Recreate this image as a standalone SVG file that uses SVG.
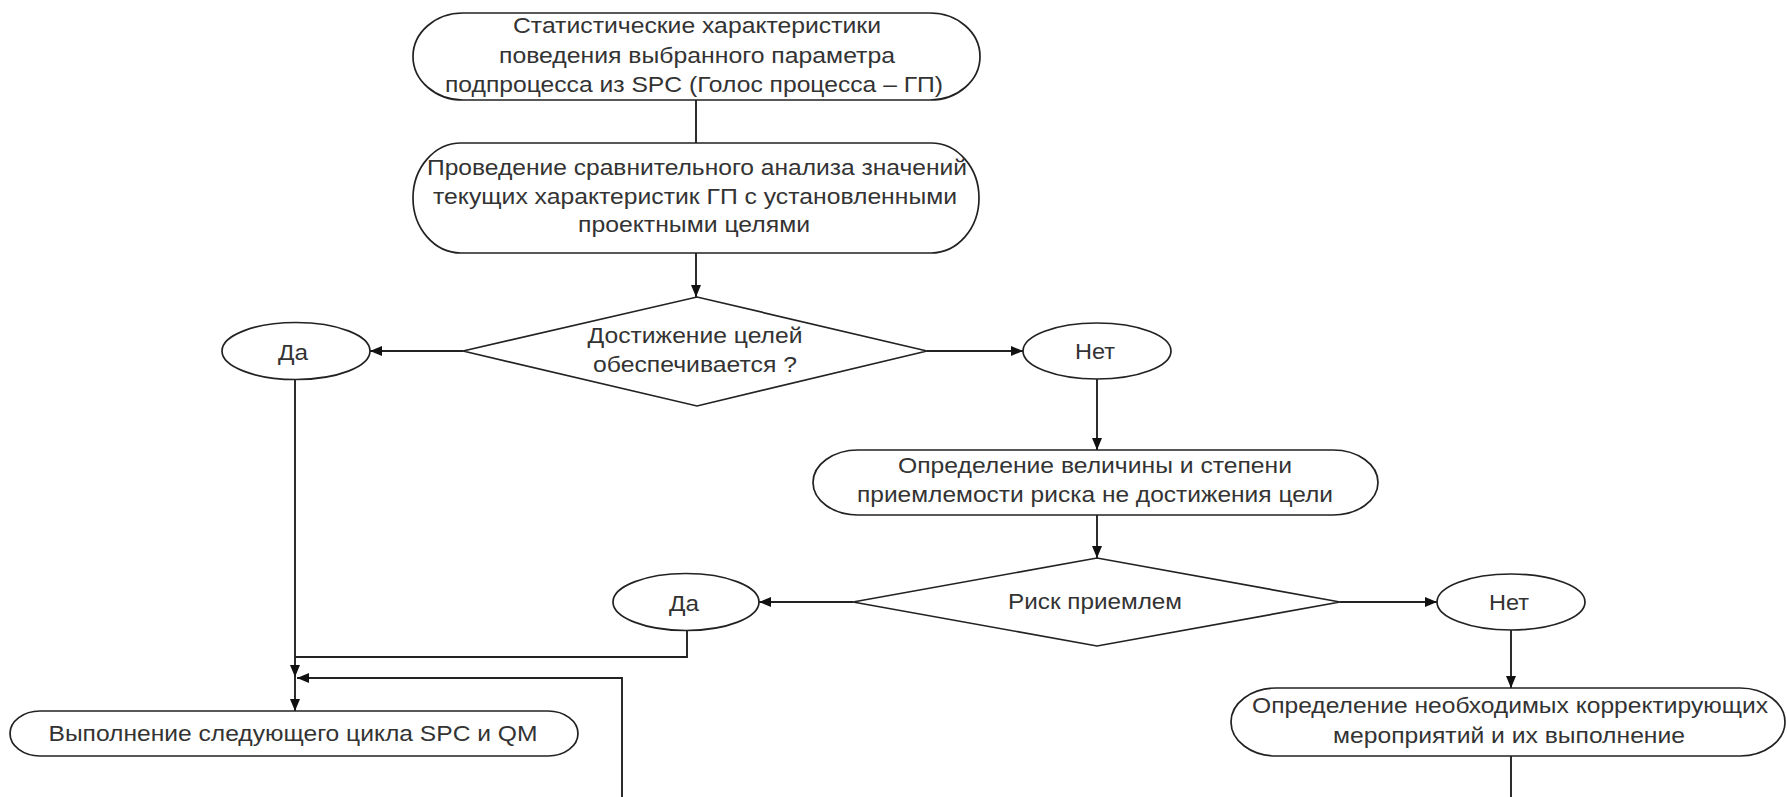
<svg xmlns="http://www.w3.org/2000/svg" width="1787" height="797" viewBox="0 0 1787 797">
<defs>
<style>
.s{fill:#fff;stroke:#222;stroke-width:1.7}
.t{font-family:"Liberation Sans",Arial,sans-serif;font-size:22px;fill:#333;text-anchor:middle}
.c{fill:none;stroke:#222;stroke-width:1.9}
</style>
<marker id="a" viewBox="0 0 12 10" refX="12" refY="5" markerWidth="12" markerHeight="10" markerUnits="userSpaceOnUse" orient="auto">
<path d="M0,0 L12,5 L0,10 Z" fill="#111"/>
</marker>
</defs>
<rect width="1787" height="797" fill="#fff"/>
<g id="connectors">
<path class="c" d="M696,100 V143"/>
<path class="c" d="M696,253 V297" marker-end="url(#a)"/>
<path class="c" d="M463,351 H370" marker-end="url(#a)"/>
<path class="c" d="M927,351 H1023" marker-end="url(#a)"/>
<path class="c" d="M1097,379 V450" marker-end="url(#a)"/>
<path class="c" d="M1097,515 V558" marker-end="url(#a)"/>
<path class="c" d="M853,602 H759" marker-end="url(#a)"/>
<path class="c" d="M1340,602 H1437" marker-end="url(#a)"/>
<path class="c" d="M1511,630 V688" marker-end="url(#a)"/>
<path class="c" d="M295,380 V677" marker-end="url(#a)"/>
<path class="c" d="M295,677 V711" marker-end="url(#a)"/>
<path class="c" d="M687,631 V657 H295"/>
<path class="c" d="M622,797 V678 H297" marker-end="url(#a)"/>
<path class="c" d="M1511,756 V797"/>
</g>
<g id="n1">
<rect class="s" x="413" y="13" width="567" height="87" rx="50" ry="43.5"/>
<text class="t" x="697" y="33" textLength="368" lengthAdjust="spacingAndGlyphs">Статистические характеристики</text>
<text class="t" x="697" y="63" textLength="396" lengthAdjust="spacingAndGlyphs">поведения выбранного параметра</text>
<text class="t" x="694" y="92" textLength="498" lengthAdjust="spacingAndGlyphs">подпроцесса из SPC (Голос процесса – ГП)</text>
</g>
<g id="n2">
<rect class="s" x="413" y="143" width="566" height="110" rx="48" ry="55"/>
<text class="t" x="697" y="175" textLength="540" lengthAdjust="spacingAndGlyphs">Проведение сравнительного анализа значений</text>
<text class="t" x="695" y="204" textLength="524" lengthAdjust="spacingAndGlyphs">текущих характеристик ГП с установленными</text>
<text class="t" x="694" y="232" textLength="232" lengthAdjust="spacingAndGlyphs">проектными целями</text>
</g>
<g id="d1">
<polygon class="s" points="463,351 697,297 927,351 697,406"/>
<text class="t" x="695" y="343" textLength="215" lengthAdjust="spacingAndGlyphs">Достижение целей</text>
<text class="t" x="695" y="372" textLength="204" lengthAdjust="spacingAndGlyphs">обеспечивается ?</text>
</g>
<g id="yes1">
<ellipse class="s" cx="296" cy="351" rx="74" ry="28.5"/>
<text class="t" x="293" y="360" textLength="30" lengthAdjust="spacingAndGlyphs">Да</text>
</g>
<g id="no1">
<ellipse class="s" cx="1097" cy="351" rx="74" ry="28"/>
<text class="t" x="1095" y="359" textLength="40" lengthAdjust="spacingAndGlyphs">Нет</text>
</g>
<g id="n3">
<rect class="s" x="813" y="450" width="565" height="65" rx="45" ry="32.5"/>
<text class="t" x="1095" y="473" textLength="394" lengthAdjust="spacingAndGlyphs">Определение величины и степени</text>
<text class="t" x="1095" y="502" textLength="476" lengthAdjust="spacingAndGlyphs">приемлемости риска не достижения цели</text>
</g>
<g id="d2">
<polygon class="s" points="853,602 1097,558 1340,602 1097,646"/>
<text class="t" x="1095" y="609" textLength="174" lengthAdjust="spacingAndGlyphs">Риск приемлем</text>
</g>
<g id="yes2">
<ellipse class="s" cx="686" cy="602" rx="73" ry="28.5"/>
<text class="t" x="684" y="611" textLength="30" lengthAdjust="spacingAndGlyphs">Да</text>
</g>
<g id="no2">
<ellipse class="s" cx="1511" cy="602" rx="74" ry="28"/>
<text class="t" x="1509" y="610" textLength="40" lengthAdjust="spacingAndGlyphs">Нет</text>
</g>
<g id="n4">
<rect class="s" x="1231" y="688" width="554" height="68" rx="45" ry="34"/>
<text class="t" x="1510" y="713" textLength="516" lengthAdjust="spacingAndGlyphs">Определение необходимых корректирующих</text>
<text class="t" x="1509" y="743" textLength="352" lengthAdjust="spacingAndGlyphs">мероприятий и их выполнение</text>
</g>
<g id="n5">
<rect class="s" x="10" y="711" width="568" height="45" rx="30" ry="22.5"/>
<text class="t" x="293" y="741" textLength="489" lengthAdjust="spacingAndGlyphs">Выполнение следующего цикла SPC и QM</text>
</g>
</svg>
